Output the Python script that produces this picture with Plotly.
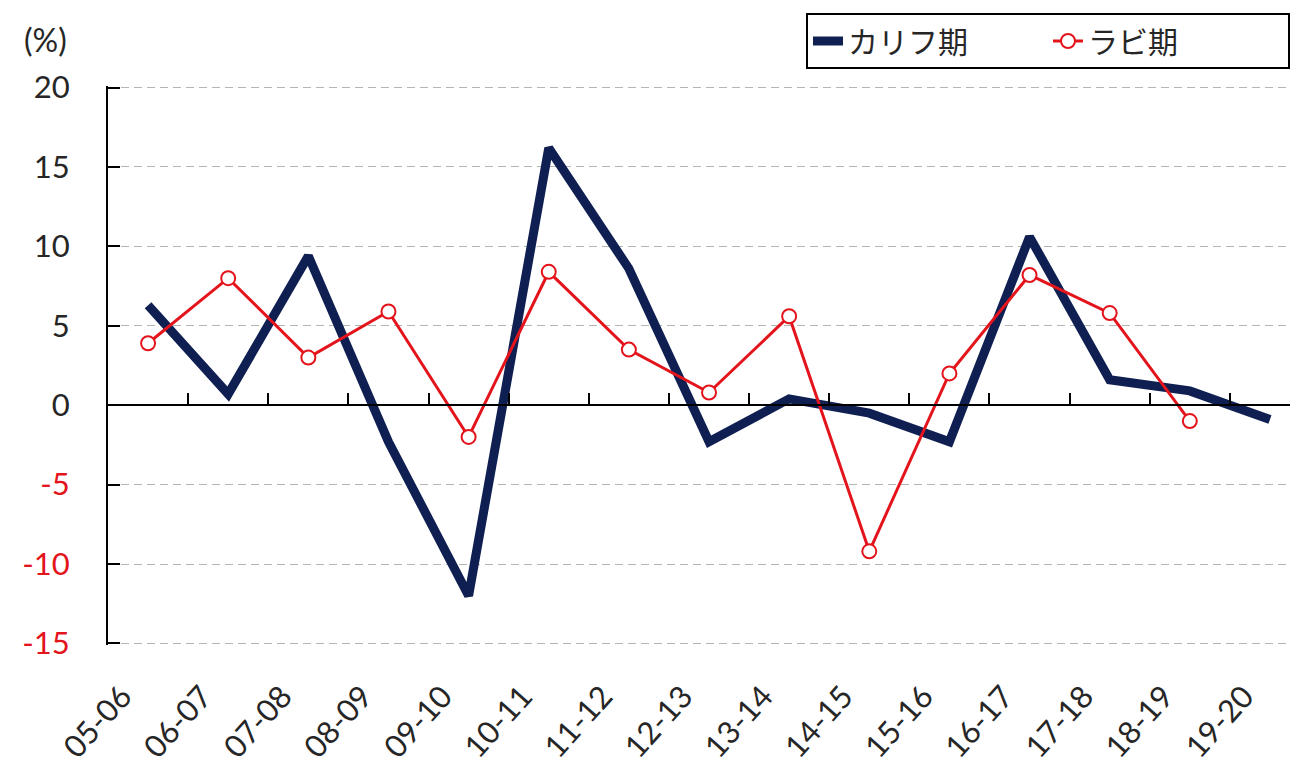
import plotly.graph_objects as go

categories = ["05-06", "06-07", "07-08", "08-09", "09-10", "10-11", "11-12", "12-13",
              "13-14", "14-15", "15-16", "16-17", "17-18", "18-19", "19-20"]
kharif = [6.3, 0.7, 9.4, -2.3, -12.0, 16.2, 8.6, -2.3, 0.4, -0.5, -2.3, 10.6, 1.6, 0.9, -0.9]
rabi = [3.9, 8.0, 3.0, 5.9, -2.0, 8.4, 3.5, 0.8, 5.6, -9.2, 2.0, 8.2, 5.8, -1.0, None]
y_ticks = [-15, -10, -5, 0, 5, 10, 15, 20]
series_names = ["カリフ期", "ラビ期"]
unit_label = "(%)"

FONT = "Lato, 'Noto Sans CJK JP', sans-serif"
NAVY = "#0f1f52"
RED = "#e3141b"

fig = go.Figure()
fig.add_trace(go.Scatter(
    x=categories, y=kharif, name=series_names[0], mode="lines",
    line=dict(color=NAVY, width=9),
))
fig.add_trace(go.Scatter(
    x=categories, y=rabi, name=series_names[1], mode="lines+markers",
    line=dict(color=RED, width=3),
    marker=dict(symbol="circle", size=14, color="white", line=dict(color=RED, width=2)),
))
# invisible trace to hold the zero-line axis with boundary ticks
fig.add_trace(go.Scatter(x=[0], y=[0], xaxis="x2", mode="markers",
                         marker=dict(opacity=0), showlegend=False, hoverinfo="skip"))

ticktext = [(f'<span style="color:{RED}">{v}</span>' if v < 0 else str(v)) for v in y_ticks]

n = len(categories)
xr = [-0.5, n - 0.75]
y0, y1 = -15, 20
pad = 0.1

fig.update_layout(
    width=1290, height=767,
    margin=dict(l=108, r=0, t=86, b=122),
    paper_bgcolor="white", plot_bgcolor="white",
    font=dict(family=FONT, color="#262626"),
    showlegend=True,
    legend=dict(
        orientation="h", xanchor="right", x=1.0, yanchor="top",
        y=1 + (86 - 13) / 559,
        bordercolor="black", borderwidth=2, bgcolor="white",
        font=dict(size=30, family=FONT, color="#262626"),
        entrywidth=195,
    ),
    xaxis=dict(
        type="category", range=xr, showline=False, showgrid=False, zeroline=False,
        ticks="", tickangle=-48, tickfont=dict(size=31, color="#262626"),
        ticklabelstandoff=26, ticklabelshift=-26,
    ),
    xaxis2=dict(
        overlaying="x", anchor="free", position=(0 - (y0 - pad)) / ((y1 + pad) - (y0 - pad)),
        range=xr, showline=True, linecolor="black", linewidth=2,
        tickvals=[i + 0.5 for i in range(n - 1)], ticks="inside", ticklen=11,
        tickwidth=2, tickcolor="black", showticklabels=False, showgrid=False,
        zeroline=False, side="bottom",
    ),
    yaxis=dict(
        range=[y0 - pad, y1 + pad], tickmode="array", tickvals=y_ticks, ticktext=ticktext,
        showline=True, linecolor="black", linewidth=2, mirror=False,
        ticks="inside", ticklen=12, tickwidth=2, tickcolor="black",
        showgrid=True, gridcolor="#b4b4b4", gridwidth=1, griddash="8px,5px",
        zeroline=False, tickfont=dict(size=31, color="#262626"),
        ticklabelstandoff=30,
    ),
    annotations=[dict(
        text=unit_label, xref="paper", yref="paper", x=-0.053, y=1 + (86 - 40) / 559,
        xanchor="center", yanchor="middle", showarrow=False,
        font=dict(size=32, color="#262626", family=FONT),
    )],
)

fig.write_html("out.html")
